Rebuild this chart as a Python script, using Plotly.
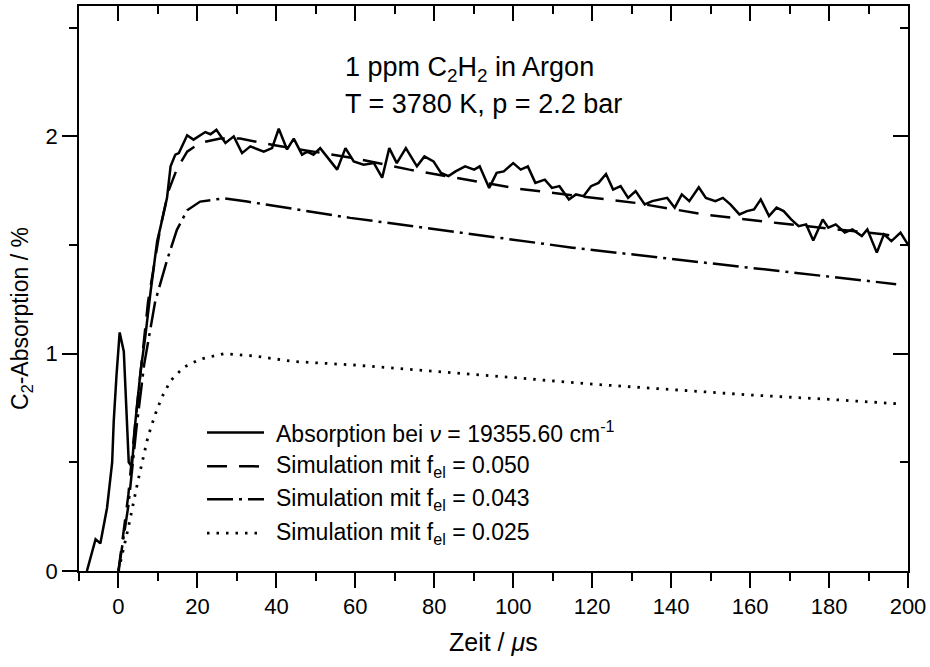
import plotly.graph_objects as go

# ---------------- data ----------------
t_abs = [-8, -6.8, -5.8, -4.6, -2.9, -1.6, -1.2, -0.5, 0.3, 1.35, 2.2, 2.6, 3.4, 4.3, 5.6, 6.8, 8.1,
         9.8, 10.6, 11.5, 12.3, 13.2, 14.4, 15.3, 17.4, 19.0, 22.0, 23.3, 24.8, 27.1, 29.2, 31.3,
         33.4, 36.8, 38.9, 40.6, 42.7, 44.4, 46.5, 47.8, 49.4, 51.1, 52.8, 55.4, 57.5, 59.6, 62.1,
         64.7, 66.8, 68.6, 70.5, 72.8, 75.6, 77.5, 79.8, 81.7, 83.6, 85.4, 87.8, 90.1, 91.5, 93.9,
         95.8, 97.6, 100.0, 101.9, 103.7, 105.6, 108.0, 109.8, 111.7, 114.1, 115.9, 117.8, 119.7,
         121.6, 123.5, 125.3, 127.2, 129.1, 131.0, 133.3, 135.2, 137.1, 139.0, 140.9, 142.7, 144.6,
         147.0, 148.8, 151.2, 153.1, 155.0, 157.3, 159.2, 161.0, 162.7, 164.8, 166.7, 168.5, 170.4,
         172.3, 174.2, 176.0, 178.4, 179.8, 181.7, 184.0, 185.9, 188.3, 189.7, 192.1, 193.9, 195.8,
         198.1, 200.2]
a_abs = [0.0, 0.08, 0.146, 0.127, 0.29, 0.50, 0.69, 0.90, 1.098, 1.01, 0.69, 0.50, 0.48, 0.69, 0.92,
         1.08, 1.28, 1.518, 1.579, 1.648, 1.717, 1.862, 1.916, 1.923, 2.005, 1.985, 2.02, 2.01, 2.03,
         1.97, 2.0, 1.923, 1.954, 1.93, 1.946, 2.035, 1.94, 1.99, 1.916, 1.93, 1.916, 1.946, 1.908,
         1.847, 1.946, 1.885, 1.87, 1.877, 1.81, 1.946, 1.877, 1.946, 1.862, 1.908, 1.885, 1.832,
         1.817, 1.839, 1.862, 1.847, 1.862, 1.763, 1.832, 1.839, 1.877, 1.847, 1.862, 1.786, 1.801,
         1.763, 1.771, 1.71, 1.733, 1.725, 1.771, 1.786, 1.827, 1.755, 1.771, 1.717, 1.748, 1.687,
         1.702, 1.71, 1.717, 1.672, 1.733, 1.702, 1.766, 1.717, 1.702, 1.717, 1.687, 1.641, 1.656,
         1.664, 1.71, 1.633, 1.672, 1.656, 1.618, 1.587, 1.595, 1.521, 1.618, 1.58, 1.595, 1.557,
         1.572, 1.541, 1.572, 1.465, 1.549, 1.518, 1.557, 1.496]

t_050 = [0, 2.5, 4.3, 6.0, 7.5, 10.6, 12.7, 14.8, 17.4, 20.7, 25.8, 30.8, 39.2, 59.5, 73.7, 100.9,
         130.9, 148.8, 167.5, 193.7, 197]
a_050 = [0.0, 0.35, 0.69, 0.98, 1.24, 1.58, 1.75, 1.85, 1.93, 1.97, 1.99, 1.99, 1.96, 1.90, 1.847,
         1.76, 1.694, 1.64, 1.60, 1.55, 1.54]

t_043 = [0, 2.5, 4.5, 6.5, 9.3, 12.3, 14.8, 17.4, 20.7, 26.7, 32.6, 44.4, 58.7, 86.8, 115, 143, 171, 197]
a_043 = [0.0, 0.30, 0.65, 0.95, 1.24, 1.43, 1.57, 1.66, 1.70, 1.715, 1.70, 1.665, 1.625, 1.557,
         1.488, 1.43, 1.373, 1.32]

t_025 = [0, 2.5, 5.0, 7.5, 9.4, 11.0, 13.2, 16.5, 20.7, 26.7, 34.2, 44.4, 59.5, 80, 100, 120, 140,
         160, 180, 197]
a_025 = [0.0, 0.20, 0.42, 0.62, 0.725, 0.80, 0.876, 0.937, 0.975, 1.0, 0.99, 0.964, 0.948, 0.92,
         0.89, 0.86, 0.835, 0.81, 0.79, 0.77]

legend_labels = [
    "Absorption bei <i>ν</i> = 19355.60 cm<sup>-1</sup>",
    "Simulation mit f<sub>el</sub> = 0.050",
    "Simulation mit f<sub>el</sub> = 0.043",
    "Simulation mit f<sub>el</sub> = 0.025",
]
title_lines = ["1 ppm C<sub>2</sub>H<sub>2</sub> in Argon", "T = 3780 K, p = 2.2 bar"]
x_title = "Zeit / <i>μ</i>s"
y_title = "C<sub>2</sub>-Absorption / %"
x_range = [-10, 200]
y_range = [0, 2.6]

# ---------------- styles ----------------
FONT = "Liberation Sans, Arial, Helvetica, sans-serif"
LW = 2.5
dashes = ["solid", "20px,12px", "26px,6px,3px,6px", "2.5px,7px"]
widths = [LW, LW, LW, 2.8]

L, R, T, B = 79, 22, 4, 96
W, H = 930, 667
pw, ph = W - L - R, H - T - B


def px2x(px):
    return (px - L) / pw


def py2y(py):
    return (H - B - py) / ph


fig = go.Figure()
series = [(t_abs, a_abs), (t_050, a_050), (t_043, a_043), (t_025, a_025)]
axes_of = [("x", "y"), ("x", "y"), ("x", "y"), ("x2", "y2")]
for (tx, ay), d, w, name, (xa, ya) in zip(series, dashes, widths, legend_labels, axes_of):
    fig.add_trace(go.Scatter(x=tx, y=ay, mode="lines", name=name, showlegend=False,
                             xaxis=xa, yaxis=ya, hoverinfo="skip",
                             line=dict(color="black", width=w, dash=d)))

# legend drawn as sample lines + texts
rows = [432, 466, 499, 533]
for ypx, d, w, lab in zip(rows, dashes, widths, legend_labels):
    fig.add_shape(type="line", xref="paper", yref="paper",
                  x0=px2x(207), x1=px2x(264), y0=py2y(ypx), y1=py2y(ypx),
                  line=dict(color="black", width=w, dash=d))
    fig.add_annotation(xref="paper", yref="paper", x=px2x(274), y=py2y(ypx),
                       xanchor="left", yanchor="middle", text=lab, showarrow=False,
                       font=dict(family=FONT, size=23, color="black"))

for ypx, txt in zip([67, 102], title_lines):
    fig.add_annotation(xref="paper", yref="paper", x=px2x(343), y=py2y(ypx),
                       xanchor="left", yanchor="middle", text=txt, showarrow=False,
                       font=dict(family=FONT, size=27, color="black"))

fig.add_annotation(xref="paper", yref="paper", x=0.5, y=py2y(642), xanchor="center",
                   yanchor="middle", text=x_title, showarrow=False,
                   font=dict(family=FONT, size=25, color="black"))
fig.add_annotation(xref="paper", yref="paper", x=px2x(22), y=py2y(318), xanchor="center",
                   yanchor="middle", text=y_title, showarrow=False, textangle=-90,
                   font=dict(family=FONT, size=23, color="black"))

axis_common = dict(showgrid=False, zeroline=False, showline=True, linecolor="black",
                   linewidth=1.5, tickcolor="black", tickwidth=1.5,
                   tickfont=dict(family=FONT, size=22, color="black"))

fig.update_layout(
    width=W, height=H,
    margin=dict(l=L, r=R, t=T, b=B, pad=0),
    paper_bgcolor="white", plot_bgcolor="white",
    font=dict(family=FONT, color="black"),
    xaxis=dict(range=x_range, tick0=0, dtick=20, ticks="outside", ticklen=15, mirror=True,
               minor=dict(dtick=10, tick0=0, ticks="outside", ticklen=8,
                          tickcolor="black", tickwidth=1.5),
               **axis_common),
    yaxis=dict(range=y_range, tick0=0, dtick=1, ticks="outside", ticklen=15, mirror=True,
               minor=dict(dtick=0.5, tick0=0, ticks="outside", ticklen=8,
                          tickcolor="black", tickwidth=1.5),
               **axis_common),
    xaxis2=dict(range=x_range, overlaying="x", side="top", anchor="y2", tick0=0, dtick=20,
                ticks="inside", ticklen=15, showticklabels=False,
                minor=dict(dtick=10, tick0=0, ticks="inside", ticklen=8,
                           tickcolor="black", tickwidth=1.5),
                **axis_common),
    yaxis2=dict(range=y_range, overlaying="y", side="right", anchor="x2", tick0=0, dtick=1,
                ticks="inside", ticklen=15, showticklabels=False,
                minor=dict(dtick=0.5, tick0=0, ticks="inside", ticklen=8,
                           tickcolor="black", tickwidth=1.5),
                **axis_common),
)

fig.write_html("out.html", config={"displayModeBar": False},
               post_script="document.body.style.margin='0px';")
